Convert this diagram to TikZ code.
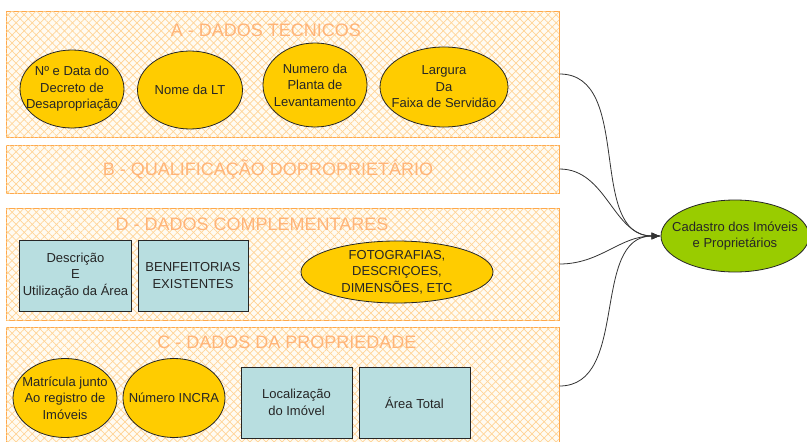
\documentclass[tikz,border=0pt]{standalone}
\usepackage{fontspec}
\setmainfont{Liberation Sans}
\usetikzlibrary{shapes.geometric}
\usetikzlibrary{patterns.meta}
\usetikzlibrary{arrows.meta}
\definecolor{panel-orange}{RGB}{255,168,75}
\definecolor{hatch-orange}{RGB}{255,212,150}
\definecolor{panel-cream}{RGB}{255,251,242}
\definecolor{title-orange}{RGB}{255,180,120}
\definecolor{oval-yellow}{RGB}{255,204,0}
\definecolor{box-blue}{RGB}{184,222,224}
\definecolor{target-green}{RGB}{153,204,0}
\tikzstyle{panel}=[draw=panel-orange,line width=1pt,fill=panel-cream,inner sep=0pt,
  postaction={pattern={Lines[angle=45,distance=5.7pt,line width=0.7pt]},pattern color=hatch-orange},
  postaction={pattern={Lines[angle=-45,distance=5.7pt,line width=0.7pt]},pattern color=hatch-orange}]
\tikzstyle{paneltitle}=[text=title-orange,inner sep=0pt,font=\fontsize{18}{20}\selectfont]
\tikzstyle{oval}=[ellipse,draw=black!85,line width=0.8pt,fill=oval-yellow,inner sep=0pt]
\tikzstyle{ovaltext}=[align=center,inner sep=0pt,text=black!85,font=\fontsize{13}{16.5}\selectfont]
\tikzstyle{infobox}=[rectangle,draw=black!85,line width=0.8pt,fill=box-blue,align=center,text=black!85,font=\fontsize{13}{16.5}\selectfont]
\tikzstyle{feed}=[black!80,line width=0.8pt,-{Latex[length=9pt,width=7pt]}]
% ellipse whose size is fixed, text set as a centre label
% Syntax: \newoval[fill]{name}{centre}{width}{height}{text}
\newcommand{\newoval}[6][oval-yellow]{
	\node[oval,fill=#1,minimum width=#4,minimum height=#5,label={[ovaltext]center:{#6}}] (#2) at (#3) {};
}

\begin{document}
\begin{tikzpicture}[x=1pt,y=-1pt]
	\useasboundingbox (0,0) rectangle (807,442);
	\clip (0,0) rectangle (807,442);
	% the four panels
	\node[panel,minimum width=553pt,minimum height=126pt] (panelA) at (282.5,74) {};
	\node[panel,minimum width=553pt,minimum height=48pt] (panelB) at (282.5,169) {};
	\node[panel,minimum width=553pt,minimum height=112pt] (panelD) at (282.5,264) {};
	\node[panel,minimum width=553pt,minimum height=118pt] (panelC) at (282.5,386) {};
	% panel titles
	\node[paneltitle] (titleA) at (266,29) {A - DADOS TÉCNICOS};
	\node[paneltitle] (titleB) at (268,170) {B - QUALIFICAÇÃO DOPROPRIETÁRIO};
	\node[paneltitle] (titleD) at (252,224) {D - DADOS COMPLEMENTARES};
	\node[paneltitle] (titleC) at (287,342) {C - DADOS DA PROPRIEDADE};
	% A - ovals
	\newoval{decreto}{72,89}{104pt}{78pt}{Nº e Data do\\Decreto de\\Desapropriação}
	\newoval{nomeLT}{190,90}{105pt}{78pt}{Nome da LT}
	\newoval{planta}{315,85}{104pt}{84pt}{Numero da\\Planta de\\Levantamento}
	\newoval{faixa}{444,87}{128pt}{80pt}{Largura\\Da\\Faixa de Servidão}
	% D - boxes and oval
	\node[infobox,minimum width=111pt,minimum height=71pt] (descricao) at (75.5,275.5) {Descrição\\E\\Utilização da Área};
	\node[infobox,minimum width=110pt,minimum height=71pt] (benfeitorias) at (193,275.5) {BENFEITORIAS\\EXISTENTES};
	\newoval{fotos}{397,272}{192pt}{62pt}{FOTOGRAFIAS,\\DESCRIÇOES,\\DIMENSÕES, ETC}
	% C - ovals and boxes
	\newoval{matricula}{65,398}{104pt}{79pt}{Matrícula junto\\Ao registro de\\Imóveis}
	\newoval{incra}{174,398}{102pt}{79pt}{Número INCRA}
	\node[infobox,minimum width=111pt,minimum height=71pt] (localizacao) at (296.5,402.5) {Localização\\do Imóvel};
	\node[infobox,minimum width=111pt,minimum height=71pt] (area) at (414.5,402.5) {Área Total};
	% target
	\newoval[target-green]{cadastro}{735,236}{148pt}{72pt}{Cadastro dos Imóveis\\e Proprietários}
	% connectors
	\draw[feed] (panelA.east) to[out=0,in=180] (cadastro.west);
	\draw[feed] (panelB.east) to[out=0,in=180] (cadastro.west);
	\draw[feed] (panelD.east) to[out=0,in=180] (cadastro.west);
	\draw[feed] (panelC.east) to[out=0,in=180] (cadastro.west);
\end{tikzpicture}
\end{document}
